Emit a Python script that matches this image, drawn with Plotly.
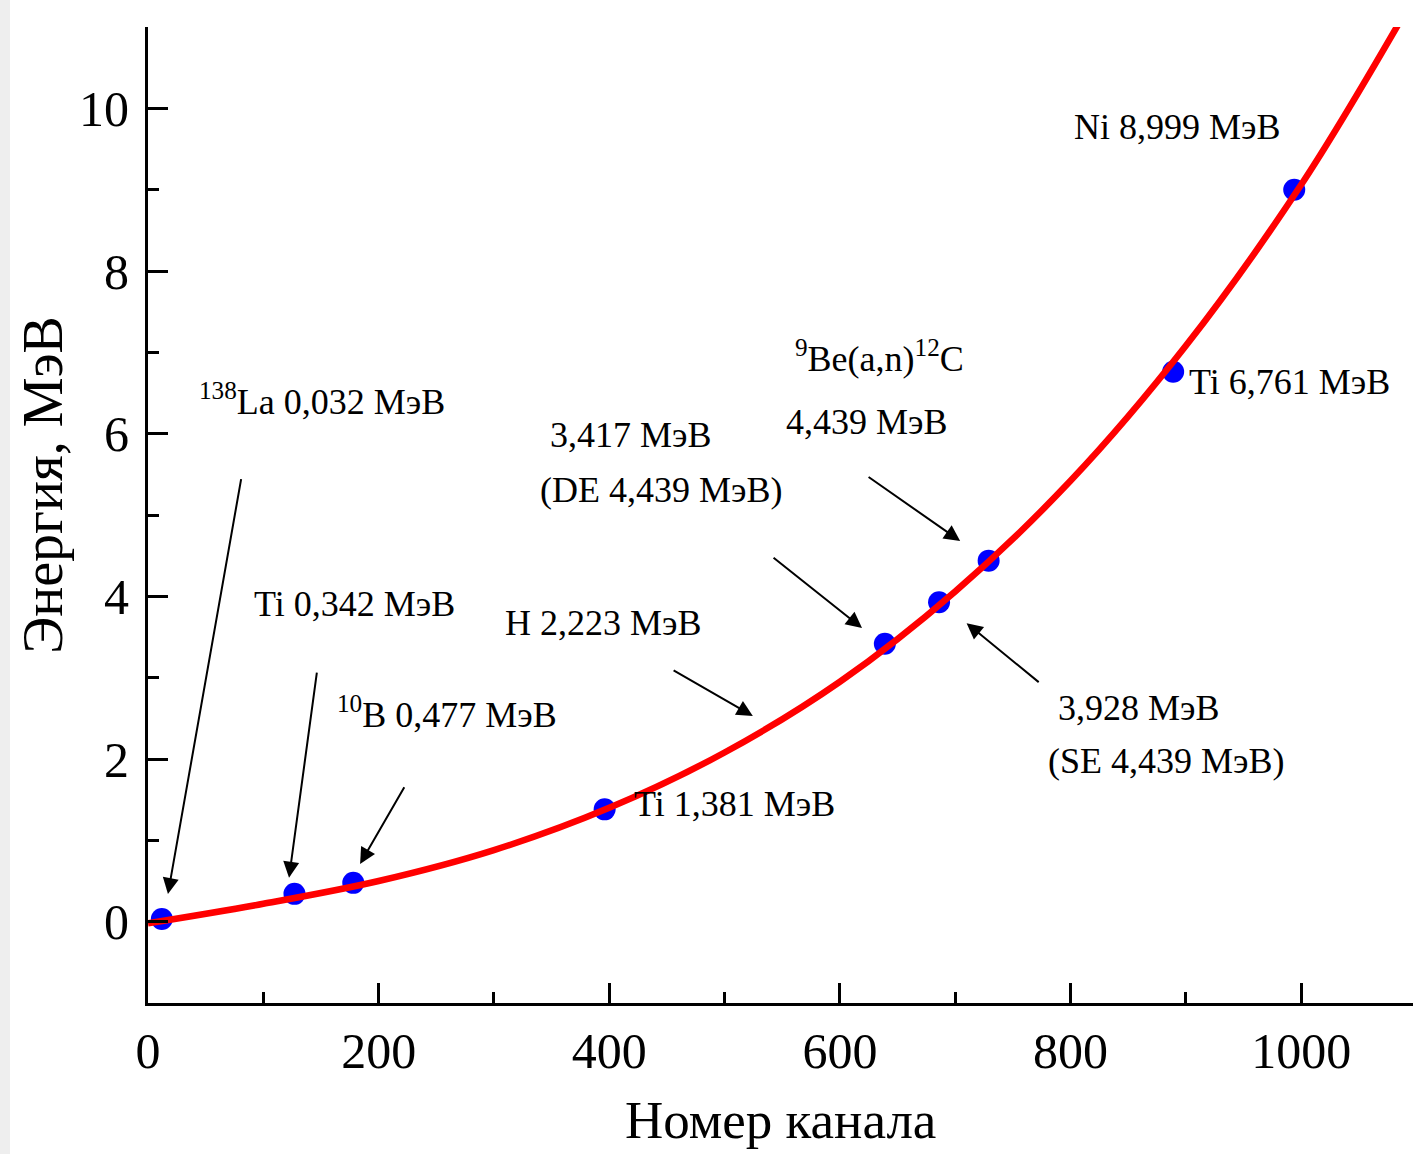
import plotly.graph_objects as go

# Calibration points (channel, energy)
chan = [12, 127, 178, 396, 639, 686, 729, 889, 994]
energy = [0.032, 0.342, 0.477, 1.381, 3.417, 3.928, 4.439, 6.761, 8.999]

# Fitted calibration curve
curve_x = [0, 100, 200, 300, 400, 500, 600, 700, 800, 900, 1000, 1085]
curve_y = [-0.02, 0.22, 0.50, 0.88, 1.40, 2.08, 2.95, 4.06, 5.42, 7.08, 9.06, 11.05]

# Text labels: (text, x, y)
labels = [
    ("<sup>138</sup>La 0,032 МэВ", 151, 6.42),
    ("Ti 0,342 МэВ", 179, 3.90),
    ("<sup>10</sup>B 0,477 МэВ", 259, 2.57),
    ("H 2,223 МэВ", 395, 3.67),
    ("Ti 1,381 МэВ", 509, 1.45),
    ("3,417 МэВ", 418, 5.98),
    ("(DE 4,439 МэВ)", 445, 5.31),
    ("<sup>9</sup>Be(a,n)<sup>12</sup>C", 634, 6.95),
    ("4,439 МэВ", 623, 6.14),
    ("3,928 МэВ", 859, 2.63),
    ("(SE 4,439 МэВ)", 883, 1.97),
    ("Ti 6,761 МэВ", 990, 6.63),
    ("Ni 8,999 МэВ", 892, 9.77),
]

# Arrows: (head_x, head_y, tail_x, tail_y)
arrows = [
    (17.3, 0.34, 81.0, 5.46),
    (122.3, 0.54, 146.6, 3.08),
    (183.9, 0.71, 223.0, 1.67),
    (524.5, 2.53, 454.5, 3.10),
    (619.2, 3.61, 541.2, 4.49),
    (704.3, 4.68, 623.6, 5.48),
    (709.9, 3.67, 773.7, 2.93),
]

FONT = "Liberation Serif"

fig = go.Figure()
fig.add_trace(go.Scatter(x=chan, y=energy, mode="markers",
                         marker=dict(color="#0000FF", size=22, line=dict(width=0)),
                         showlegend=False, cliponaxis=False))
fig.add_trace(go.Scatter(x=curve_x, y=curve_y, mode="lines",
                         line=dict(color="#FF0000", width=6.5, shape="spline"),
                         showlegend=False))

annotations = []
for t, x, y in labels:
    annotations.append(dict(text=t, x=x, y=y, xref="x", yref="y", showarrow=False,
                            xanchor="center", yanchor="middle",
                            font=dict(family=FONT, size=36, color="black")))
for hx, hy, tx, ty in arrows:
    annotations.append(dict(text="", x=hx, y=hy, ax=tx, ay=ty, xref="x", yref="y",
                            axref="x", ayref="y", showarrow=True, arrowhead=2,
                            arrowsize=1.6, arrowwidth=2, arrowcolor="black",
                            standoff=0, startstandoff=0))
# axis titles
annotations.append(dict(text="Номер канала", x=0.5, y=-0.12, xref="paper", yref="paper",
                        showarrow=False, xanchor="center", yanchor="middle",
                        font=dict(family=FONT, size=53, color="black")))
annotations.append(dict(text="Энергия, МэВ", x=-0.083, y=0.531, xref="paper", yref="paper",
                        showarrow=False, xanchor="center", yanchor="middle", textangle=-90,
                        font=dict(family=FONT, size=56, color="black")))

fig.update_layout(
    width=1413, height=1154,
    margin=dict(l=148, r=0, t=27, b=151),
    paper_bgcolor="white", plot_bgcolor="white",
    annotations=annotations,
    shapes=[
        dict(type="rect", xref="paper", yref="paper", x0=-0.1170, x1=-0.1091,
             y0=-0.16, y1=1.03, fillcolor="#eeeeee", line=dict(width=0), layer="below"),
    ],
    font=dict(family=FONT, color="black"),
)
fig.update_xaxes(range=[0, 1097], showgrid=False, zeroline=False,
                 showline=True, linecolor="black", linewidth=3,
                 ticks="inside", ticklen=20, tickwidth=2.5, tickcolor="black",
                 dtick=200, tick0=0,
                 minor=dict(ticks="inside", ticklen=11, tickwidth=2.5, tickcolor="black", dtick=100),
                 tickfont=dict(family=FONT, size=50, color="black"),
                 ticklabelstandoff=2)
fig.update_yaxes(range=[-1, 11], showgrid=False, zeroline=False,
                 showline=True, linecolor="black", linewidth=3,
                 ticks="inside", ticklen=20, tickwidth=2.5, tickcolor="black",
                 dtick=2, tick0=0,
                 minor=dict(ticks="inside", ticklen=11, tickwidth=2.5, tickcolor="black", dtick=1),
                 tickfont=dict(family=FONT, size=50, color="black"),
                 ticklabelstandoff=6)

fig.write_html("out.html")
